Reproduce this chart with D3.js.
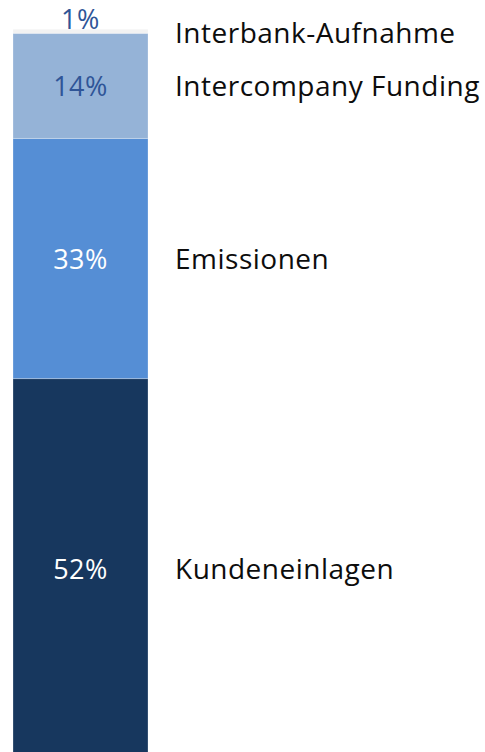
<!DOCTYPE html>
<html><head><meta charset="utf-8">
<script src="https://cdn.jsdelivr.net/npm/d3@7"></script>
<style>html,body{margin:0;padding:0;background:#fff;overflow:hidden}</style>
</head><body>
<svg id="c" width="485" height="752"></svg>
<script>
const categories = ["Kundeneinlagen", "Emissionen", "Intercompany Funding", "Interbank-Aufnahme"];
const values = [52.15, 32.9, 14.4, 0.55];
const colors = ["#17375E", "#558ED5", "#95B3D7", "#F2F2F2"];
const labelColors = ["#FFFFFF", "#FFFFFF", "#2F5597", "#2F5597"];

const svg = d3.select("#c");
const y = d3.scaleLinear().domain([0, 100]).range([759.3, 29.3]);
const x = d3.scaleBand().domain(["Funding"]).range([13, 148]).padding(0);

let acc = 0;
const stacked = values.map((v, i) => { const s = {cat: categories[i], v, y0: acc, y1: acc + v, i}; acc += v; return s; });

svg.selectAll("rect.seg").data(stacked).join("rect")
  .attr("class", "seg")
  .attr("x", x("Funding"))
  .attr("width", x.bandwidth())
  .attr("y", d => y(d.y1))
  .attr("height", d => y(d.y0) - y(d.y1))
  .attr("fill", d => colors[d.i])
  .attr("stroke", "rgba(255,255,255,0.25)")
  .attr("stroke-width", 1);

const font = "'Open Sans', 'Noto Sans', sans-serif";
const mid = d => (y(d.y0) + y(d.y1)) / 2;

svg.selectAll("text.val").data(stacked).join("text")
  .attr("class", "val")
  .attr("x", x("Funding") + x.bandwidth() / 2)
  .attr("y", d => d.i === 3 ? 29 : mid(d) + 10)
  .attr("text-anchor", "middle")
  .attr("font-family", font)
  .attr("font-size", 27)
  .attr("letter-spacing", 0.5)
  .attr("fill", d => labelColors[d.i])
  .text(d => Math.round(d.v) + "%");

svg.selectAll("text.cat").data(stacked).join("text")
  .attr("class", "cat")
  .attr("x", 175)
  .attr("y", d => d.i === 3 ? 43 : mid(d) + 10.5)
  .attr("font-family", font)
  .attr("font-size", 28)
  .attr("letter-spacing", 0.5)
  .attr("fill", "#0D0D0D")
  .text(d => d.cat);
</script>
</body></html>
